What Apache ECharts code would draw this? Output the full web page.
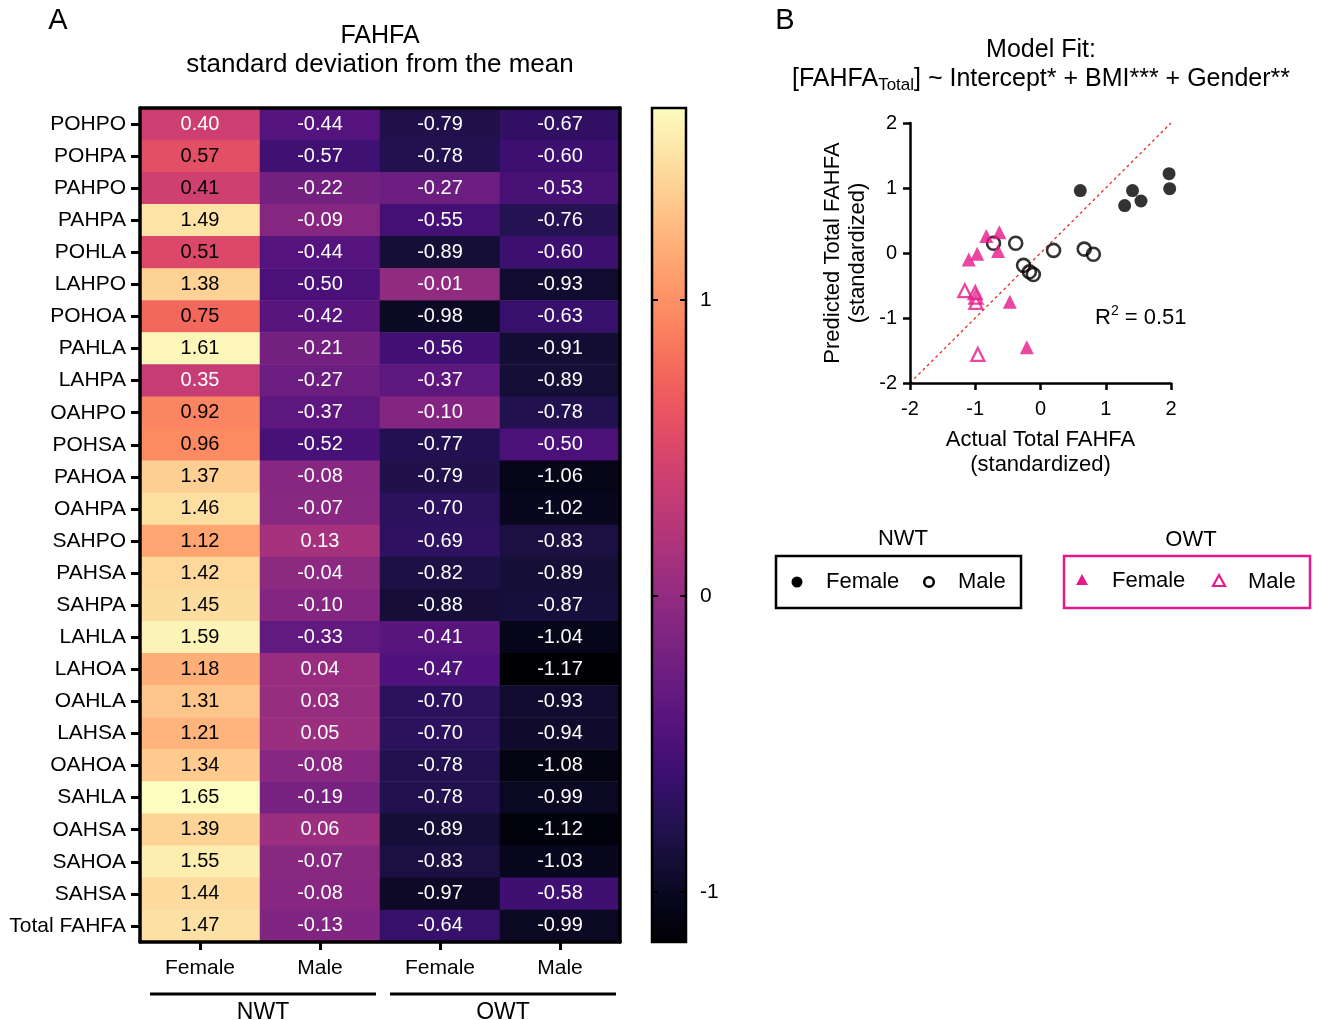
<!DOCTYPE html>
<html>
<head>
<meta charset="utf-8">
<script src="https://cdn.jsdelivr.net/npm/echarts@6/dist/echarts.min.js"></script>
<style>
html,body{margin:0;padding:0;background:#fff;}
#chart{width:1317px;height:1020px;}
</style>
</head>
<body>
<div id="chart"></div>
<script>
// ---------- DATA ----------
const rowLabels = ['POHPO','POHPA','PAHPO','PAHPA','POHLA','LAHPO','POHOA','PAHLA','LAHPA','OAHPO','POHSA','PAHOA','OAHPA','SAHPO','PAHSA','SAHPA','LAHLA','LAHOA','OAHLA','LAHSA','OAHOA','SAHLA','OAHSA','SAHOA','SAHSA','Total FAHFA'];
const colLabels = ['Female','Male','Female','Male'];
const colGroups = ['NWT','NWT','OWT','OWT'];
const nwtFemale = [0.40,0.57,0.41,1.49,0.51,1.38,0.75,1.61,0.35,0.92,0.96,1.37,1.46,1.12,1.42,1.45,1.59,1.18,1.31,1.21,1.34,1.65,1.39,1.55,1.44,1.47];
const nwtMale   = [-0.44,-0.57,-0.22,-0.09,-0.44,-0.50,-0.42,-0.21,-0.27,-0.37,-0.52,-0.08,-0.07,0.13,-0.04,-0.10,-0.33,0.04,0.03,0.05,-0.08,-0.19,0.06,-0.07,-0.08,-0.13];
const owtFemale = [-0.79,-0.78,-0.27,-0.55,-0.89,-0.01,-0.98,-0.56,-0.37,-0.10,-0.77,-0.79,-0.70,-0.69,-0.82,-0.88,-0.41,-0.47,-0.70,-0.70,-0.78,-0.78,-0.89,-0.83,-0.97,-0.64];
const owtMale   = [-0.67,-0.60,-0.53,-0.76,-0.60,-0.93,-0.63,-0.91,-0.89,-0.78,-0.50,-1.06,-1.02,-0.83,-0.89,-0.87,-1.04,-1.17,-0.93,-0.94,-1.08,-0.99,-1.12,-1.03,-0.58,-0.99];
const colorbarTicks = [-1, 0, 1];
const colorMin = -1.17, colorMax = 1.65;

// scatter: [actual, predicted]
const nwtFemalePts = [[0.61,0.96],[1.41,0.96],[1.29,0.73],[1.54,0.80],[1.97,1.22],[1.98,0.99]];
const nwtMalePts   = [[-0.72,0.15],[-0.38,0.15],[0.20,0.04],[0.67,0.06],[0.81,-0.02],[-0.26,-0.19],[-0.17,-0.29],[-0.11,-0.33]];
const owtFemalePts = [[-1.10,-0.10],[-0.97,-0.01],[-0.83,0.26],[-0.63,0.32],[-0.65,0.03],[-0.47,-0.75],[-0.21,-1.45]];
const owtMalePts   = [[-1.16,-0.58],[-1.00,-0.61],[-0.99,-0.68],[-0.99,-0.76],[-0.96,-1.56]];
const identityLine = [[-2,-2],[2,2]];
const r2Text = '0.51';

// ---------- STYLE ----------
const FONT = "'Liberation Sans', Arial, sans-serif";
const MAGENTA = '#e6198a';
const magma = ['#000004','#07061c','#150e37','#251255','#3b0f70','#51127c','#641a80','#782281','#8c2981','#a1307e','#b73779','#ca3e72','#de4968','#ed5a5f','#f7705c','#fc8961','#fe9f6d','#feb77e','#fecf92','#fde7a9','#fcfdbf'];

const columns = [nwtFemale, nwtMale, owtFemale, owtMale];
const colKeys = colLabels.map((c,i)=>colGroups[i]+' '+c);
const heatData = [];
rowLabels.forEach((r,i)=>{
  columns.forEach((col,j)=>{
    const v = col[i];
    heatData.push({value:[j,i,v], label:{color: v >= 0.41 ? '#000' : '#fff'}});
  });
});

const chart = echarts.init(document.getElementById('chart'), null, {renderer:'canvas'});

const gradStops = magma.map((c,i)=>({offset:i/(magma.length-1), color:c}));

function txt(x,y,text,size,opts){
  return Object.assign({type:'text', x:x, y:y, z:50, style:Object.assign({text:text, font: size+'px '+FONT, fill:'#000', textAlign:'center', textVerticalAlign:'middle'}, (opts&&opts.style)||{})}, opts&&opts.el||{});
}

const option = {
  animation:false,
  backgroundColor:'#fff',
  textStyle:{fontFamily:FONT},
  grid:[
    {left:140, top:108, width:480, height:834},
    {left:910, top:123, width:261, height:260},
    {left:652, top:108, width:34, height:834}
  ],
  visualMap:{type:'continuous', show:false, min:colorMin, max:colorMax, dimension:2, seriesIndex:0, inRange:{color:magma}},
  xAxis:[
    {gridIndex:0, type:'category', data:colKeys, position:'bottom', z:10,
     axisLine:{show:true, lineStyle:{color:'#000', width:3.5}},
     axisTick:{show:true, alignWithLabel:true, length:8, lineStyle:{color:'#000', width:3}},
     axisLabel:{formatter:v=>v.split(' ')[1], fontSize:21, color:'#000', margin:16, fontFamily:FONT},
     splitLine:{show:false}},
    {gridIndex:0, type:'category', data:colKeys, position:'top', z:10,
     axisLine:{show:true, lineStyle:{color:'#000', width:3.5}},
     axisTick:{show:false}, axisLabel:{show:false}, splitLine:{show:false}},
    {gridIndex:1, type:'value', min:-2, max:2, interval:1, z:10,
     axisLine:{show:true, onZero:false, lineStyle:{color:'#000', width:2.5}},
     axisTick:{show:true, length:7, lineStyle:{color:'#000', width:2.5}},
     axisLabel:{fontSize:20, color:'#000', margin:16, fontFamily:FONT},
     splitLine:{show:false},
     name:'Actual Total FAHFA\n(standardized)', nameLocation:'middle', nameGap:44,
     nameTextStyle:{fontSize:22, color:'#000', lineHeight:25, fontFamily:FONT}},
    {gridIndex:2, type:'category', data:['c'], show:false}
  ],
  yAxis:[
    {gridIndex:0, type:'category', data:rowLabels, inverse:true, position:'left', z:10,
     axisLine:{show:true, lineStyle:{color:'#000', width:3.5}},
     axisTick:{show:true, alignWithLabel:true, length:9, lineStyle:{color:'#000', width:3}},
     axisLabel:{fontSize:21, color:'#000', margin:14, fontFamily:FONT, interval:0},
     splitLine:{show:false}},
    {gridIndex:0, type:'category', data:rowLabels, inverse:true, position:'right', z:10,
     axisLine:{show:true, lineStyle:{color:'#000', width:3.5}},
     axisTick:{show:false}, axisLabel:{show:false}, splitLine:{show:false}},
    {gridIndex:1, type:'value', min:-2, max:2, interval:1, z:10,
     axisLine:{show:true, onZero:false, lineStyle:{color:'#000', width:2.5}},
     axisTick:{show:true, length:7, lineStyle:{color:'#000', width:2.5}},
     axisLabel:{fontSize:20, color:'#000', margin:13, fontFamily:FONT},
     splitLine:{show:false},
     name:'Predicted Total FAHFA\n(standardized)', nameLocation:'middle', nameGap:40,
     nameTextStyle:{fontSize:22, color:'#000', lineHeight:25, fontFamily:FONT}},
    {gridIndex:2, type:'value', min:colorMin, max:colorMax, position:'right', z:20,
     axisLine:{show:false},
     axisTick:{show:true, inside:true, length:6, customValues:colorbarTicks, lineStyle:{color:'#000', width:2}},
     axisLabel:{show:true, customValues:colorbarTicks, fontSize:21, color:'#000', margin:14, fontFamily:FONT},
     splitLine:{show:false}},
    {gridIndex:2, type:'value', min:colorMin, max:colorMax, position:'left', z:20,
     axisLine:{show:false},
     axisTick:{show:true, inside:true, length:6, customValues:colorbarTicks, lineStyle:{color:'#000', width:2}},
     axisLabel:{show:false}, splitLine:{show:false}}
  ],
  series:[
    {type:'heatmap', xAxisIndex:0, yAxisIndex:0, data:heatData,
     label:{show:true, fontSize:20, fontFamily:FONT, formatter:p=>p.value[2].toFixed(2)},
     emphasis:{disabled:true}, itemStyle:{borderWidth:0}},
    {type:'line', xAxisIndex:2, yAxisIndex:2, data:identityLine, symbol:'none', silent:true,
     lineStyle:{color:'#e0312b', width:1.3, type:[3,3]}, z:2},
    {type:'scatter', name:'NWT Female', xAxisIndex:2, yAxisIndex:2, data:nwtFemalePts, symbol:'circle', symbolSize:13,
     itemStyle:{color:'#000'}, z:5},
    {type:'scatter', name:'NWT Male', xAxisIndex:2, yAxisIndex:2, data:nwtMalePts, symbol:'circle', symbolSize:13,
     itemStyle:{color:'rgba(255,255,255,0)', borderColor:'#000', borderWidth:2.6}, z:5},
    {type:'scatter', name:'OWT Female', xAxisIndex:2, yAxisIndex:2, data:owtFemalePts, symbol:'triangle', symbolSize:14,
     itemStyle:{color:MAGENTA}, z:5},
    {type:'scatter', name:'OWT Male', xAxisIndex:2, yAxisIndex:2, data:owtMalePts, symbol:'triangle', symbolSize:13,
     itemStyle:{color:'rgba(255,255,255,0)', borderColor:MAGENTA, borderWidth:2.3}, z:5}
  ],
  graphic:{elements:[
    // colorbar
    {type:'rect', x:652, y:108, z:1, shape:{width:34, height:834},
     style:{fill:new echarts.graphic.LinearGradient(0,1,0,0,gradStops), stroke:'#000', lineWidth:2.5}},
    // panel letters & titles
    txt(58,21,'A',29),
    txt(785,21,'B',29),
    txt(380,36,'FAHFA',25),
    txt(380,65,'standard deviation from the mean',26),
    txt(1041,50,'Model Fit:',25),
    {type:'text', x:1041, y:79, z:50, style:{
      text:'{a|[FAHFA}{s|Total}{a|] ~ Intercept* + BMI*** + Gender**}',
      textAlign:'center', textVerticalAlign:'middle',
      rich:{a:{fontSize:25, fontFamily:FONT, fill:'#000', color:'#000'},
            s:{fontSize:17, fontFamily:FONT, fill:'#000', color:'#000', padding:[13,0,0,0]}}}},
    {type:'text', x:1095, y:318, z:50, style:{
      text:'{a|R}{p|2}{a| = '+r2Text+'}',
      textAlign:'left', textVerticalAlign:'middle',
      rich:{a:{fontSize:22, fontFamily:FONT, fill:'#000', color:'#000'},
            p:{fontSize:14, fontFamily:FONT, fill:'#000', color:'#000', padding:[0,0,13,0]}}}},
    // group brackets under heatmap
    {type:'line', z:50, shape:{x1:150, y1:994, x2:376, y2:994}, style:{stroke:'#000', lineWidth:3}},
    {type:'line', z:50, shape:{x1:390, y1:994, x2:616, y2:994}, style:{stroke:'#000', lineWidth:3}},
    txt(263,1013,'NWT',23),
    txt(503,1013,'OWT',23),
    // legend NWT
    txt(903,539,'NWT',22),
    {type:'rect', x:776, y:556, z:50, shape:{width:245, height:52}, style:{fill:'none', stroke:'#000', lineWidth:2.5}},
    {type:'circle', z:50, shape:{cx:797, cy:582, r:5.5}, style:{fill:'#000'}},
    txt(826,582,'Female',22,{style:{textAlign:'left'}}),
    {type:'circle', z:50, shape:{cx:929, cy:582, r:4.8}, style:{fill:'none', stroke:'#000', lineWidth:2.5}},
    txt(958,582,'Male',22,{style:{textAlign:'left'}}),
    // legend OWT
    txt(1191,540,'OWT',22),
    {type:'rect', x:1064, y:556, z:50, shape:{width:246, height:52}, style:{fill:'none', stroke:MAGENTA, lineWidth:2.5}},
    {type:'polygon', z:50, shape:{points:[[1082,574],[1088,585],[1076,585]]}, style:{fill:MAGENTA}},
    txt(1112,581,'Female',22,{style:{textAlign:'left'}}),
    {type:'polygon', z:50, shape:{points:[[1219,575],[1225,586],[1213,586]]}, style:{fill:'none', stroke:MAGENTA, lineWidth:2.2}},
    txt(1248,582,'Male',22,{style:{textAlign:'left'}})
  ]}
};
chart.setOption(option);
</script>
</body>
</html>
